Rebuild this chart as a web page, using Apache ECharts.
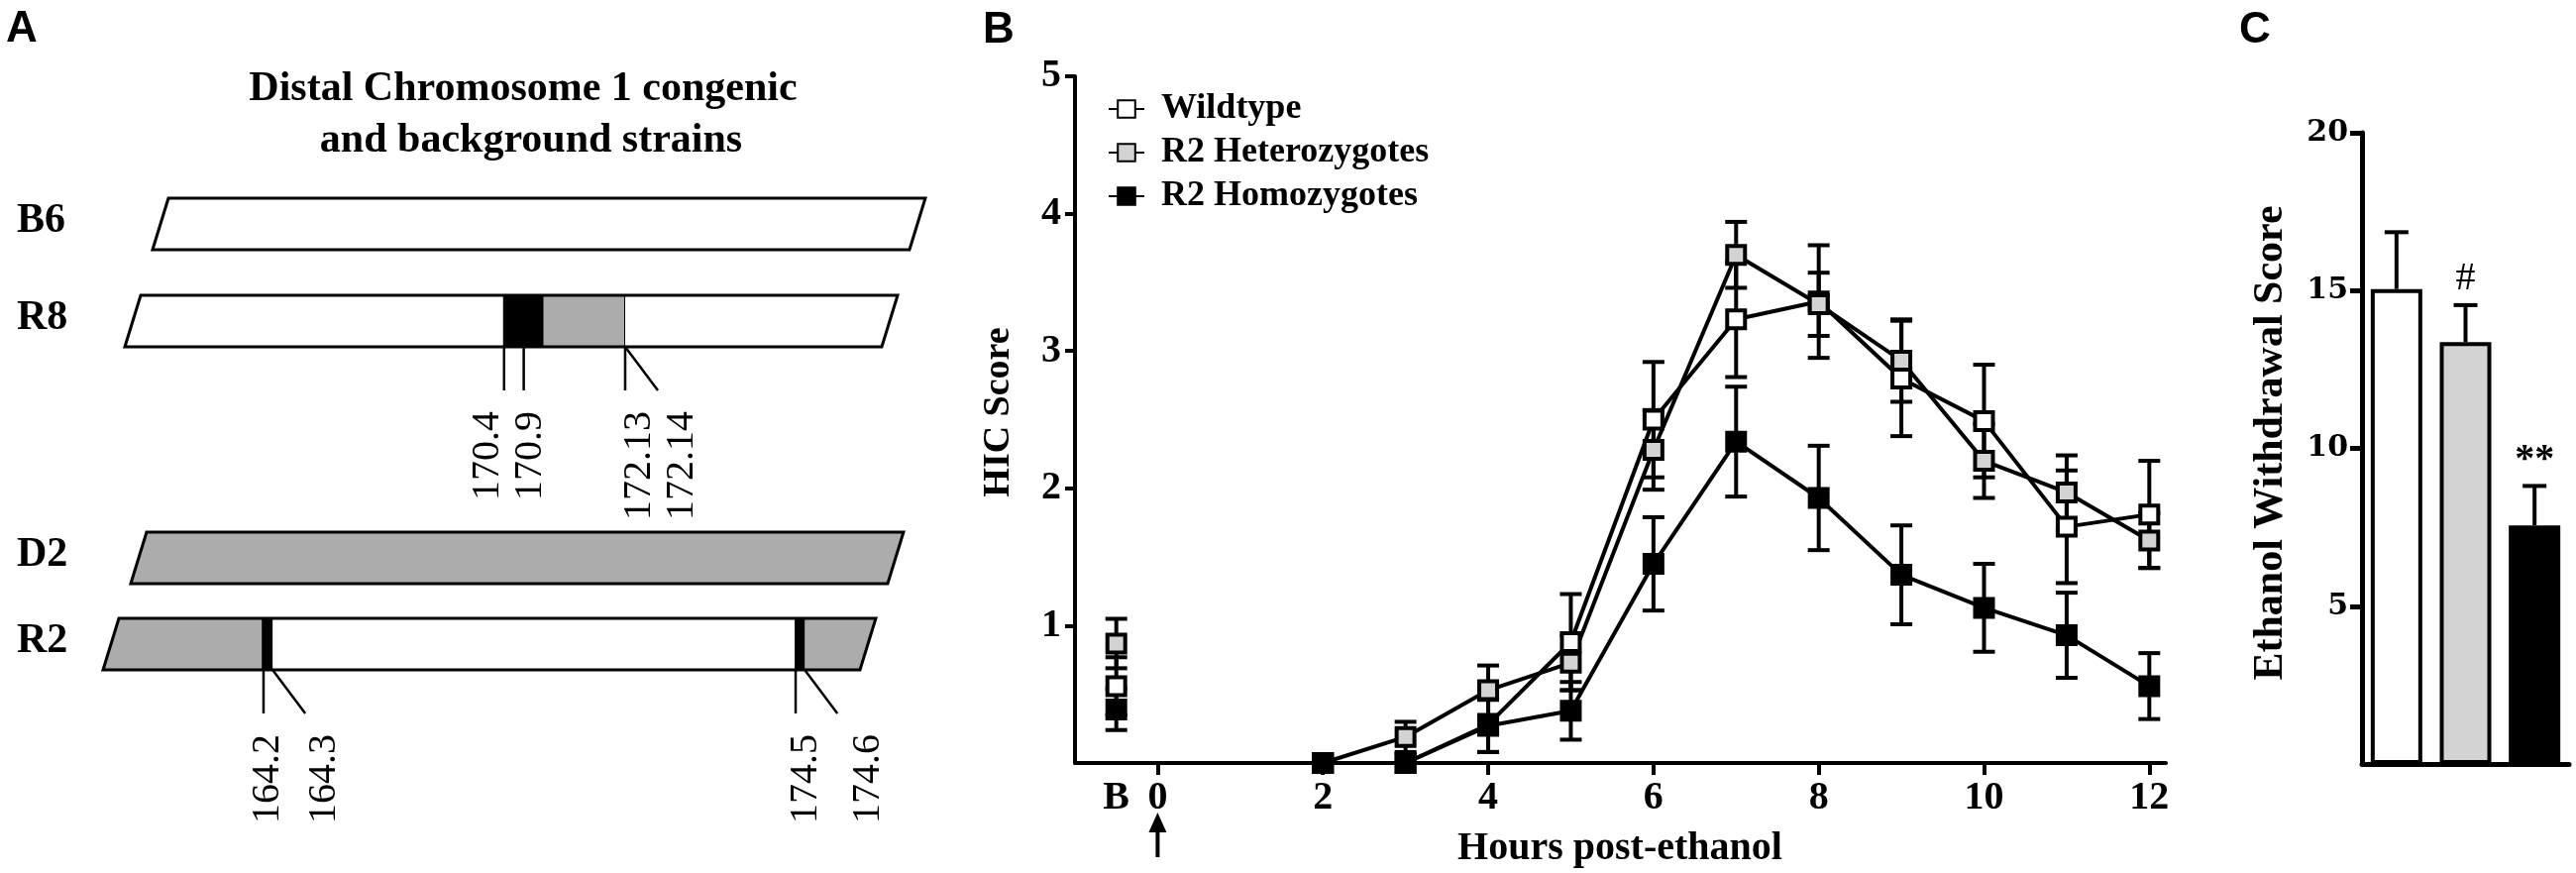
<!DOCTYPE html>
<html>
<head>
<meta charset="utf-8">
<title>Distal chromosome 1 congenic strains, HIC and withdrawal scores</title>
<script src="https://cdn.jsdelivr.net/npm/echarts@6/dist/echarts.min.js"></script>
<style>
html, body { margin: 0; padding: 0; background: #fff; }
#chart { width: 2600px; height: 881px; }
</style>
</head>
<body>
<div id="chart"></div>
<script>
// ---------- data ----------
// panel A: strains and their segments along the distal chr 1 (in % of bar length)
var strains = ['B6', 'R8', 'D2', 'R2'];
var segB6 = [[0, 100, 'B6']];
var segR8 = [[0, 50.1, 'B6'], [50.1, 55.3, 'bp'], [55.3, 66.1, 'D2'], [66.1, 100, 'B6']];
var segD2 = [[0, 100, 'D2']];
var segR2 = [[0, 21.1, 'D2'], [21.1, 22.4, 'bp'], [22.4, 91.5, 'B6'], [91.5, 92.7, 'bp'], [92.7, 100, 'D2']];
// breakpoint markers: [label (Mb), position %, v = straight lead / d = slanted lead]
var markR8 = [['170.4', 50.1, 'v'], ['170.9', 52.7, 'v'], ['172.13', 66.1, 'v'], ['172.14', 66.1, 'd']];
var markR2 = [['164.2', 21.2, 'v'], ['164.3', 22.4, 'd'], ['174.5', 91.5, 'v'], ['174.6', 92.7, 'd']];

// panel B: HIC score by hour after ethanol (mean, SEM)
var hours   = [2, 3, 4, 5, 6, 7, 8, 9, 10, 11, 12];
var wtMean  = [0, 0, 0.28, 0.88, 2.50, 3.23, 3.36, 2.80, 2.49, 1.72, 1.81];
var wtSem   = [0, 0, 0.20, 0.35, 0.42, 0.42, 0.41, 0.42, 0.41, 0.41, 0.39];
var hetMean = [0, 0.19, 0.53, 0.73, 2.28, 3.70, 3.34, 2.93, 2.20, 1.97, 1.62];
var hetSem  = [0, 0.11, 0.18, 0.20, 0.29, 0.24, 0.23, 0.30, 0.27, 0.27, 0.20];
var homMean = [0, 0, 0.27, 0.38, 1.45, 2.34, 1.93, 1.37, 1.13, 0.93, 0.56];
var homSem  = [0, 0, 0.19, 0.21, 0.34, 0.40, 0.38, 0.36, 0.32, 0.31, 0.24];
// baseline ("B") values: wildtype, heterozygotes, homozygotes
var baseMean = [0.56, 0.87, 0.39];
var baseSem  = [0.21, 0.18, 0.15];
var groups = ['Wildtype', 'R2 Heterozygotes', 'R2 Homozygotes'];
var xTickVals  = [0, 2, 4, 6, 8, 10, 12];
var xLabelVals = [-0.5, 0, 2, 4, 6, 8, 10, 12];
var BASE_X = -0.5;

// panel C: ethanol withdrawal score
var wdMean = [15.05, 13.37, 7.56];
var wdSem  = [1.80, 1.17, 1.25];
var wdSig  = ['', '#', '**'];

// ---------- layout / style ----------
var SERIF = '"Liberation Serif", "Times New Roman", serif';
var SANS = '"Liberation Sans", Arial, sans-serif';
var GENO_COLOR = { B6: '#ffffff', D2: '#acacac', bp: '#000000' };
var FILL = ['#ffffff', '#d3d3d3', '#000000'];
var ROW_Y = [226, 324, 563, 650];
var ROW_SHIFT = [6.54, 2.88, 3.66, 0];
var BAR_H = 52, SLANT = 16, LEAD = 44, DIAG = 33, LABEL_TOP = 65;
var LABEL_DX = { '170.4': -16, '170.9': 7, '172.13': 15, '172.14': 25,
                 '164.2': 5, '164.3': 19, '174.5': 10, '174.6': 31 };

var segments = [segB6, segR8, segD2, segR2];
var marks = { R8: markR8, R2: markR2 };

function renderStrain(params, api) {
  var i = api.value(0);
  var name = strains[i];
  var shift = ROW_SHIFT[i];
  var yTop = api.coord([0, ROW_Y[i] - BAR_H / 2])[1];
  var yBot = api.coord([0, ROW_Y[i] + BAR_H / 2])[1];
  function px(p) { return api.coord([shift + p, 0])[0]; }
  var kids = [];
  segments[i].forEach(function (s) {
    var xa = px(s[0]), xb = px(s[1]);
    var ta = s[0] === 0 ? xa + SLANT : xa;
    var tb = s[1] === 100 ? xb + SLANT : xb;
    kids.push({ type: 'polygon', shape: { points: [[xa, yBot], [ta, yTop], [tb, yTop], [xb, yBot]] },
      style: { fill: GENO_COLOR[s[2]] } });
    if (s[1] < 100) {
      kids.push({ type: 'line', shape: { x1: xb, y1: yTop, x2: xb, y2: yBot },
        style: { stroke: '#000', lineWidth: 2 } });
    }
  });
  var x0 = px(0), x1 = px(100);
  kids.push({ type: 'polygon',
    shape: { points: [[x0, yBot], [x0 + SLANT, yTop], [x1 + SLANT, yTop], [x1, yBot]] },
    style: { fill: 'none', stroke: '#000', lineWidth: 3 } });
  kids.push({ type: 'text', x: 17, y: (yTop + yBot) / 2 - 3,
    style: { text: name, font: 'bold 42px ' + SERIF, fill: '#000', align: 'left', verticalAlign: 'middle' } });
  (marks[name] || []).forEach(function (m) {
    var xm = px(m[1]);
    var xe = m[2] === 'd' ? xm + DIAG : xm;
    kids.push({ type: 'line', shape: { x1: xm, y1: yBot, x2: xe, y2: yBot + LEAD },
      style: { stroke: '#000', lineWidth: 2.5 } });
    kids.push({ type: 'text', x: xe + LABEL_DX[m[0]], y: yBot + LABEL_TOP, rotation: Math.PI / 2,
      style: { text: m[0], font: '40px ' + SERIF, fill: '#000', align: 'right', verticalAlign: 'middle' } });
  });
  return { type: 'group', children: kids };
}

function renderErr(params, api) {
  var x = api.value(0), m = api.value(1), e = api.value(2);
  if (!e) return null;
  var hi = api.coord([x, m + e]), lo = api.coord([x, m - e]);
  var w = 11;
  var st = { stroke: '#000', lineWidth: 4 };
  return { type: 'group', children: [
    { type: 'line', shape: { x1: hi[0], y1: hi[1], x2: lo[0], y2: lo[1] }, style: st },
    { type: 'line', shape: { x1: hi[0] - w, y1: hi[1], x2: hi[0] + w, y2: hi[1] }, style: st },
    { type: 'line', shape: { x1: lo[0] - w, y1: lo[1], x2: lo[0] + w, y2: lo[1] }, style: st }
  ] };
}

function renderBarErr(params, api) {
  var i = api.value(0), m = api.value(1), e = api.value(2);
  var base = api.coord([i, m]), top = api.coord([i, m + e]);
  var st = { stroke: '#000', lineWidth: 4 };
  var kids = [
    { type: 'line', shape: { x1: base[0], y1: base[1], x2: top[0], y2: top[1] }, style: st },
    { type: 'line', shape: { x1: top[0] - 12, y1: top[1], x2: top[0] + 12, y2: top[1] }, style: st }
  ];
  if (wdSig[i]) {
    kids.push({ type: 'text', x: top[0], y: top[1] - 6,
      style: { text: wdSig[i], font: (wdSig[i] === '#' ? '' : 'bold ') + '40px ' + SERIF, fill: '#000',
        align: 'center', verticalAlign: 'bottom' } });
  }
  return { type: 'group', children: kids };
}

function lineData(mean, k) {
  var d = [[BASE_X, baseMean[k]], [0, '-']];
  hours.forEach(function (h, j) { d.push([h, mean[j]]); });
  return d;
}
function errData(mean, sem, k) {
  var d = [[BASE_X, baseMean[k], baseSem[k]]];
  hours.forEach(function (h, j) { d.push([h, mean[j], sem[j]]); });
  return d;
}

var axisFont = { fontFamily: SERIF, fontWeight: 'bold', fontSize: 40, color: '#000' };

function groupSeries(k, mean) {
  return {
    name: groups[k], type: 'line', xAxisIndex: 1, yAxisIndex: 1, z: 3,
    data: lineData(mean, k), symbol: 'rect', symbolSize: 18, showAllSymbol: true, clip: false,
    itemStyle: { color: FILL[k], borderColor: '#000', borderWidth: 4 },
    lineStyle: { color: '#000', width: 4 },
    emphasis: { disabled: true }
  };
}

var chart = echarts.init(document.getElementById('chart'));
chart.setOption({
  animation: false,
  backgroundColor: '#fff',
  grid: [
    { left: 104, top: 0, width: 818, height: 881 },
    { left: 1085, top: 77, width: 1101, height: 693 },
    { left: 2384, top: 134, width: 209, height: 637 }
  ],
  xAxis: [
    { gridIndex: 0, type: 'value', min: 0, max: 107.07, show: false },
    { gridIndex: 1, type: 'value', min: -1, max: 12.2, interval: 1,
      axisLine: { onZero: false, lineStyle: { color: '#000', width: 4 } },
      axisTick: { customValues: xTickVals, length: 12, lineStyle: { color: '#000', width: 4 } },
      axisLabel: Object.assign({ customValues: xLabelVals, margin: 16,
        formatter: function (v) { return v === BASE_X ? 'B' : String(v); } }, axisFont),
      splitLine: { show: false } },
    { gridIndex: 2, type: 'category', data: groups,
      axisLine: { lineStyle: { color: '#000', width: 5 } },
      axisTick: { show: false }, axisLabel: { show: false } }
  ],
  yAxis: [
    { gridIndex: 0, type: 'value', min: 0, max: 881, inverse: true, show: false },
    { gridIndex: 1, type: 'value', min: 0, max: 5, interval: 1,
      axisLine: { show: true, onZero: false, lineStyle: { color: '#000', width: 4 } },
      axisTick: { show: true, customValues: [1, 2, 3, 4, 5], length: 10, lineStyle: { color: '#000', width: 4 } },
      axisLabel: Object.assign({ customValues: [1, 2, 3, 4, 5], margin: 14 }, axisFont),
      splitLine: { show: false } },
    { gridIndex: 2, type: 'value', min: 0, max: 20, interval: 5,
      axisLine: { show: true, onZero: false, lineStyle: { color: '#000', width: 5 } },
      axisTick: { show: true, customValues: [5, 10, 15, 20], length: 12, lineStyle: { color: '#000', width: 5 } },
      axisLabel: { customValues: [5, 10, 15, 20], margin: 14, fontFamily: '"DejaVu Serif", serif',
        fontWeight: 'bold', fontSize: 30, color: '#000' },
      splitLine: { show: false } }
  ],
  legend: {
    left: 1113, top: 83, orient: 'vertical', itemWidth: 36, itemHeight: 22, itemGap: 0,
    selectedMode: false, data: groups,
    textStyle: { fontFamily: SERIF, fontWeight: 'bold', fontSize: 36, lineHeight: 44, color: '#000',
      padding: [0, 0, 0, 12] }
  },
  graphic: [
    { type: 'text', x: 6, y: 30, style: { text: 'A', font: 'bold 44px ' + SANS, fill: '#000', align: 'left', verticalAlign: 'middle' } },
    { type: 'text', x: 992, y: 31, style: { text: 'B', font: 'bold 44px ' + SANS, fill: '#000', align: 'left', verticalAlign: 'middle' } },
    { type: 'text', x: 2260, y: 31, style: { text: 'C', font: 'bold 44px ' + SANS, fill: '#000', align: 'left', verticalAlign: 'middle' } },
    { type: 'text', x: 528, y: 90, style: { text: 'Distal Chromosome 1 congenic', font: 'bold 42px ' + SERIF, fill: '#000', align: 'center', verticalAlign: 'middle' } },
    { type: 'text', x: 536, y: 142, style: { text: 'and background strains', font: 'bold 42px ' + SERIF, fill: '#000', align: 'center', verticalAlign: 'middle' } },
    { type: 'text', x: 1008, y: 416, rotation: Math.PI / 2, style: { text: 'HIC Score', font: 'bold 38px ' + SERIF, fill: '#000', align: 'center', verticalAlign: 'middle' } },
    { type: 'text', x: 1635, y: 857, style: { text: 'Hours post-ethanol', font: 'bold 40px ' + SERIF, fill: '#000', align: 'center', verticalAlign: 'middle' } },
    { type: 'text', x: 2292, y: 447, rotation: Math.PI / 2, style: { text: 'Ethanol Withdrawal Score', font: 'bold 42px ' + SERIF, fill: '#000', align: 'center', verticalAlign: 'middle' } }
  ],
  series: [
    { type: 'custom', name: 'strains', xAxisIndex: 0, yAxisIndex: 0, silent: true, clip: false,
      data: strains.map(function (s, i) { return [i]; }), renderItem: renderStrain },
    { type: 'custom', name: 'hicErr', xAxisIndex: 1, yAxisIndex: 1, z: 1, silent: true, clip: false,
      data: errData(wtMean, wtSem, 0).concat(errData(hetMean, hetSem, 1), errData(homMean, homSem, 2)),
      renderItem: renderErr },
    groupSeries(0, wtMean),
    groupSeries(1, hetMean),
    groupSeries(2, homMean),
    { type: 'bar', name: 'withdrawal', xAxisIndex: 2, yAxisIndex: 2, barWidth: 52, silent: true,
      data: wdMean.map(function (v, i) { return { value: v, itemStyle: { color: FILL[i] } }; }),
      itemStyle: { borderColor: '#000', borderWidth: 4 } },
    { type: 'custom', name: 'wdErr', xAxisIndex: 2, yAxisIndex: 2, z: 3, silent: true, clip: false,
      data: wdMean.map(function (v, i) { return [i, v, wdSem[i]]; }), renderItem: renderBarErr }
  ]
});

// arrow marking ethanol injection at hour 0, placed from the axis scale
var p0 = chart.convertToPixel({ xAxisIndex: 1, yAxisIndex: 1 }, [0, 0]);
chart.setOption({
  graphic: [
    { id: 'arrowHead', type: 'polygon', shape: { points: [[p0[0], p0[1] + 50], [p0[0] - 9, p0[1] + 70], [p0[0] + 9, p0[1] + 70]] },
      style: { fill: '#000' } },
    { id: 'arrowShaft', type: 'line', shape: { x1: p0[0], y1: p0[1] + 66, x2: p0[0], y2: p0[1] + 95 },
      style: { stroke: '#000', lineWidth: 4 } }
  ]
});
</script>
</body>
</html>
